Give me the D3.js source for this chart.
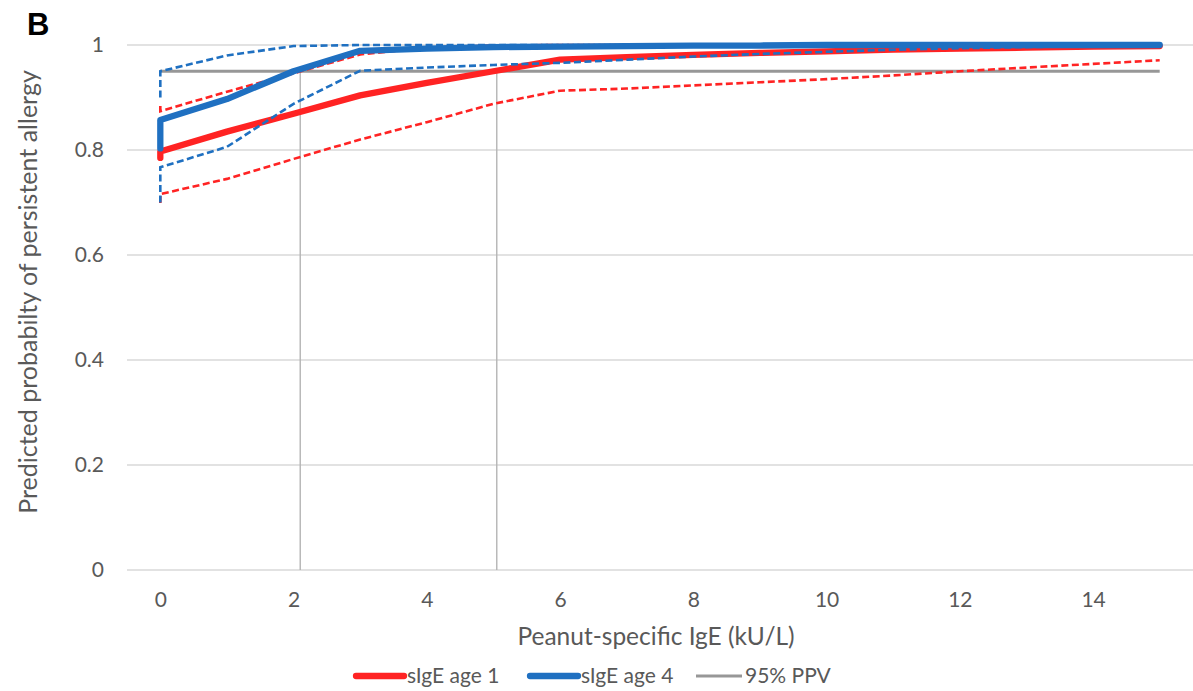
<!DOCTYPE html>
<html>
<head>
<meta charset="utf-8">
<script src="https://cdn.jsdelivr.net/npm/d3@7/dist/d3.min.js"></script>
<style>
  html, body { margin: 0; padding: 0; background: #fff; }
  svg { display: block; }
  text { font-family: Lato, "Open Sans", sans-serif; fill: #595959; }
</style>
</head>
<body>
<svg id="chart" width="1193" height="691"></svg>
<script>
// Peanut-specific IgE (kU/L); the first level is listed twice because each curve
// has two estimates at 0 kU/L.
const ige = [0, 0, 1, 2, 3, 4, 5, 6, 7, 8, 9, 10, 11, 12, 13, 14, 15];

// sIgE measured at age 1: predicted probability and its confidence band
const age1 = [0.785, 0.797, 0.835, 0.869, 0.904, 0.928, 0.950, 0.972, 0.977, 0.981, 0.985, 0.988, 0.991, 0.993, 0.995, 0.997, 0.998];
const age1Upper = [0.884, 0.874, 0.911, 0.946, 0.982, 0.995, 0.999, 1, 1, 1, 1, 1, 1, 1, 1, 1, 1];
const age1Lower = [0.699, 0.716, 0.745, 0.783, 0.820, 0.853, 0.888, 0.913, 0.917, 0.923, 0.929, 0.935, 0.942, 0.950, 0.957, 0.964, 0.971];

// sIgE measured at age 4: predicted probability and its confidence band
const age4 = [0.803, 0.857, 0.897, 0.950, 0.989, 0.993, 0.996, 0.997, 0.998, 0.999, 0.999, 1, 1, 1, 1, 1, 1];
const age4Upper = [0.900, 0.950, 0.980, 0.998, 1, 1, 1, 1, 1, 1, 1, 1, 1, 1, 1, 1, 1];
const age4Lower = [0.700, 0.767, 0.806, 0.888, 0.951, 0.957, 0.962, 0.966, 0.972, 0.978, 0.983, 0.987, 0.991, 0.994, 0.996, 0.998, 0.999];

// 95% positive predictive value and the IgE cut-offs where each curve reaches it
const ppvLevel = 0.95;
const ppvCutoffs = [2.1, 5.05];

const xTicks = [0, 2, 4, 6, 8, 10, 12, 14];
const yTicks = [0, 0.2, 0.4, 0.6, 0.8, 1];

const legendItems = ["sIgE age 1", "sIgE age 4", "95% PPV"];

const RED = "#ff2323";
const BLUE = "#1f70c1";
const GREY = "#979797";

const svg = d3.select("#chart");

const x = d3.scaleLinear().domain([-0.5, 15.5]).range([127, 1193]);
const y = d3.scaleLinear().domain([0, 1]).range([570, 45]);

// panel letter
svg.append("text")
  .attr("x", 27).attr("y", 35)
  .style("font-family", "'Liberation Sans', Arial, sans-serif")
  .style("font-weight", "bold")
  .style("font-size", "31px")
  .style("fill", "#000")
  .text("B");

// horizontal gridlines (the one at 0 doubles as the axis line)
svg.append("g")
  .selectAll("line")
  .data(yTicks)
  .join("line")
  .attr("x1", x.range()[0]).attr("x2", x.range()[1])
  .attr("y1", d => y(d)).attr("y2", d => y(d))
  .attr("stroke", "#d9d9d9")
  .attr("stroke-width", 1.3);

// y tick labels
const yAxis = svg.append("g")
  .attr("transform", `translate(${x.range()[0] - 23},0)`)
  .call(d3.axisLeft(y).tickValues(yTicks).tickSize(0).tickPadding(0).tickFormat(d3.format("~g")));
yAxis.select(".domain").remove();
yAxis.selectAll("text")
  .style("font-size", "21px")
  .style("fill", "#595959");

// x tick labels
const xAxis = svg.append("g")
  .attr("transform", `translate(0,${y(0) + 22})`)
  .call(d3.axisBottom(x).tickValues(xTicks).tickSize(0).tickPadding(0).tickFormat(d3.format("d")));
xAxis.select(".domain").remove();
xAxis.selectAll("text")
  .style("font-size", "21px")
  .style("fill", "#595959");

// axis titles
svg.append("text")
  .attr("x", 656).attr("y", 645)
  .attr("text-anchor", "middle")
  .style("font-size", "24.5px")
  .text("Peanut-specific IgE (kU/L)");

svg.append("text")
  .attr("transform", `translate(37,${292}) rotate(-90)`)
  .attr("text-anchor", "middle")
  .style("font-size", "25px")
  .text("Predicted probabilty of persistent allergy");

// PPV cut-off drop lines
svg.append("g")
  .selectAll("line")
  .data(ppvCutoffs)
  .join("line")
  .attr("x1", d => x(d)).attr("x2", d => x(d))
  .attr("y1", y(0)).attr("y2", y(ppvLevel))
  .attr("stroke", "#b4b4b4")
  .attr("stroke-width", 1.4);

// 95% PPV reference line
svg.append("line")
  .attr("x1", x(ige[0])).attr("x2", x(ige[ige.length - 1]))
  .attr("y1", y(ppvLevel)).attr("y2", y(ppvLevel))
  .attr("stroke", GREY)
  .attr("stroke-width", 3);

const line = d3.line()
  .x((d, i) => x(ige[i]))
  .y(d => y(d));

function band(values, colour) {
  svg.append("path")
    .datum(values)
    .attr("d", line)
    .attr("fill", "none")
    .attr("stroke", colour)
    .attr("stroke-width", 2.6)
    .attr("stroke-dasharray", "7,3.5");
}

function estimate(values, colour) {
  svg.append("path")
    .datum(values)
    .attr("d", line)
    .attr("fill", "none")
    .attr("stroke", colour)
    .attr("stroke-width", 6.3)
    .attr("stroke-linecap", "round")
    .attr("stroke-linejoin", "round");
}

band(age1Upper, RED);
band(age1Lower, RED);
estimate(age1, RED);
band(age4Upper, BLUE);
band(age4Lower, BLUE);
estimate(age4, BLUE);

// legend
const legend = [
  { label: legendItems[0], colour: RED, width: 6.3, x0: 356, x1: 404 },
  { label: legendItems[1], colour: BLUE, width: 6.3, x0: 530, x1: 578 },
  { label: legendItems[2], colour: GREY, width: 3, x0: 696, x1: 742 }
];
const lg = svg.append("g");
legend.forEach(item => {
  lg.append("line")
    .attr("x1", item.x0).attr("x2", item.x1)
    .attr("y1", 676).attr("y2", 676)
    .attr("stroke", item.colour)
    .attr("stroke-width", item.width)
    .attr("stroke-linecap", item.width > 4 ? "round" : "butt");
  lg.append("text")
    .attr("x", item.x1 + 3).attr("y", 683)
    .style("font-size", "21px")
    .text(item.label);
});
</script>
</body>
</html>
